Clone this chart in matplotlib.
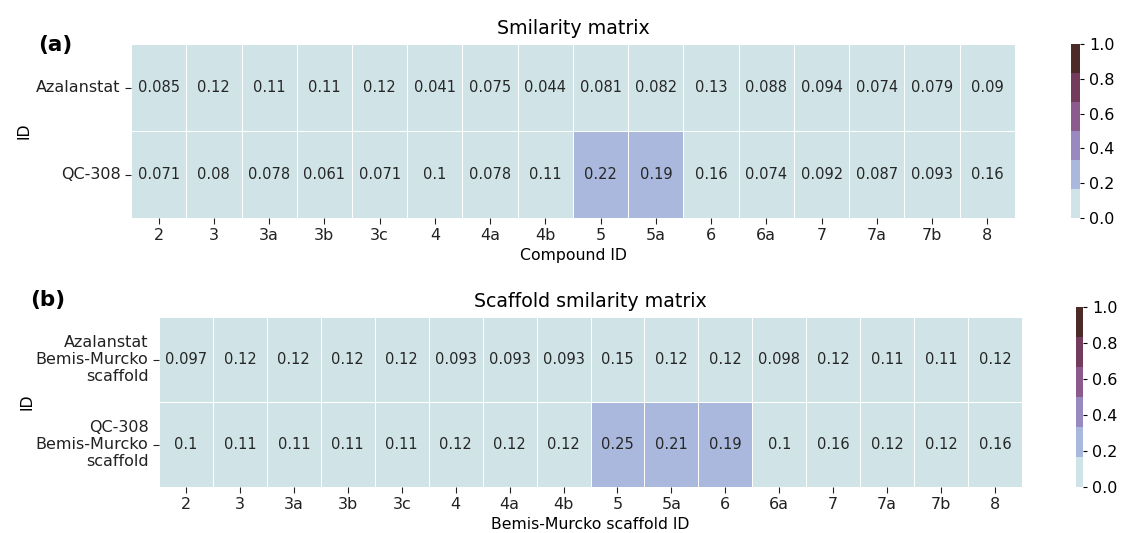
import numpy as np
import seaborn as sns
from matplotlib import pyplot as plt
from matplotlib.colors import ListedColormap

compounds = ["2", "3", "3a", "3b", "3c", "4", "4a", "4b", "5", "5a", "6", "6a", "7", "7a", "7b", "8"]
ref_ids = ["Azalanstat", "QC-308"]
sim_azalanstat = [0.085, 0.12, 0.11, 0.11, 0.12, 0.041, 0.075, 0.044, 0.081, 0.082, 0.13, 0.088, 0.094, 0.074, 0.079, 0.09]
sim_qc308 = [0.071, 0.08, 0.078, 0.061, 0.071, 0.1, 0.078, 0.11, 0.22, 0.19, 0.16, 0.074, 0.092, 0.087, 0.093, 0.16]

scaf_ids = ["Azalanstat\nBemis-Murcko\nscaffold", "QC-308\nBemis-Murcko\nscaffold"]
scaf_azalanstat = [0.097, 0.12, 0.12, 0.12, 0.12, 0.093, 0.093, 0.093, 0.15, 0.12, 0.12, 0.098, 0.12, 0.11, 0.11, 0.12]
scaf_qc308 = [0.1, 0.11, 0.11, 0.11, 0.11, 0.12, 0.12, 0.12, 0.25, 0.21, 0.19, 0.1, 0.16, 0.12, 0.12, 0.16]

colors = ["#d0e4e8", "#a9b8dc", "#9a88c0", "#8c5a8c", "#743c5c", "#4b2a28"]
cmap = ListedColormap(colors)

fig = plt.figure(figsize=(11.21, 5.33), dpi=100)
W, H = 1121, 533

def box(x0, y0, x1, y1):
    return [x0 / W, 1 - y1 / H, (x1 - x0) / W, (y1 - y0) / H]

ax1 = fig.add_axes(box(131, 44, 1015, 218))
cax1 = fig.add_axes(box(1071, 44, 1080, 218))
ax2 = fig.add_axes(box(159, 317, 1022, 487))
cax2 = fig.add_axes(box(1076, 307, 1083, 487))

def draw(ax, cax, data, rows, title, xlabel, idx):
    sns.heatmap(np.array(data), ax=ax, cbar_ax=cax, cmap=cmap, vmin=0, vmax=1,
                annot=True, annot_kws={"size": 10.5, "color": "#262626"},
                linewidths=0.5, linecolor="white",
                xticklabels=compounds, yticklabels=rows)
    ax.set_title(title, fontsize=13.7, pad=7)
    ax.set_xlabel(xlabel, fontsize=11.3, labelpad=3)
    ax.set_ylabel("ID", fontsize=11.3)
    ax.yaxis.set_label_coords(idx, 0.5)
    ax.tick_params(axis="both", labelsize=11.5, length=4, width=0.8, colors="#222222")
    plt.setp(ax.get_yticklabels(), rotation=0)
    plt.setp(ax.get_xticklabels(), rotation=0)
    cax.tick_params(labelsize=11.5, length=3)
    cax.set_yticks([0.0, 0.2, 0.4, 0.6, 0.8, 1.0])

draw(ax1, cax1, [sim_azalanstat, sim_qc308], ref_ids, "Smilarity matrix", "Compound ID", -0.113)
draw(ax2, cax2, [scaf_azalanstat, scaf_qc308], scaf_ids, "Scaffold smilarity matrix", "Bemis-Murcko scaffold ID", -0.144)

fig.text(38 / W, 1 - 45 / H, "(a)", fontsize=15.5, fontweight="bold", va="center")
fig.text(30 / W, 1 - 300 / H, "(b)", fontsize=15.5, fontweight="bold", va="center")

fig.savefig("out.png", dpi=100)
